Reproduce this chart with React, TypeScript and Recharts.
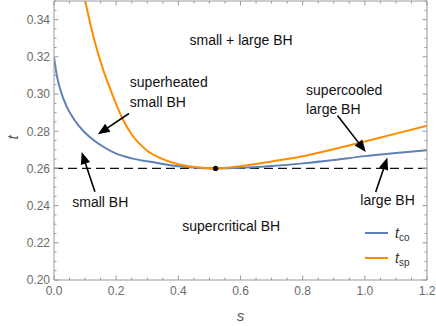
import React from 'react';
import {
  LineChart,
  Line,
  XAxis,
  YAxis,
  ReferenceLine,
  ReferenceDot,
  Legend,
} from 'recharts';

// ---- data ----
const sCo = [0, 0.01, 0.02, 0.04, 0.06, 0.08, 0.1, 0.13, 0.16, 0.2, 0.25, 0.3, 0.35, 0.4, 0.45, 0.52, 0.6, 0.7, 0.8, 0.9, 1.0, 1.1, 1.2];
const tCo = [0.3197, 0.3092, 0.3025, 0.2935, 0.2875, 0.2829, 0.2792, 0.2749, 0.2715, 0.2679, 0.2654, 0.2638, 0.2624, 0.2612, 0.2605, 0.26, 0.2603, 0.2613, 0.2627, 0.2645, 0.2666, 0.2683, 0.2698];

const sSp = [0.09, 0.1, 0.12, 0.14, 0.16, 0.18, 0.2, 0.22, 0.25, 0.3, 0.35, 0.4, 0.45, 0.52, 0.6, 0.7, 0.8, 0.9, 1.0, 1.1, 1.2];
const tSp = [0.359, 0.3505, 0.3355, 0.3228, 0.3122, 0.3032, 0.2945, 0.2868, 0.2782, 0.2695, 0.265, 0.2622, 0.2607, 0.26, 0.2612, 0.2637, 0.2665, 0.2703, 0.2745, 0.2787, 0.283];

const xMajorTicks = [0, 0.2, 0.4, 0.6, 0.8, 1.0, 1.2];
const yMajorTicks = [0.2, 0.22, 0.24, 0.26, 0.28, 0.3, 0.32, 0.34];

const criticalS = 0.52;
const criticalT = 0.26;

// annotations (data coordinates)
const noteTexts = [
  { s: 0.602, t: 0.3292, text: 'small + large BH', anchor: 'middle' },
  { s: 0.244, t: 0.3063, text: 'superheated', anchor: 'start' },
  { s: 0.244, t: 0.2956, text: 'small BH', anchor: 'start' },
  { s: 0.811, t: 0.3022, text: 'supercooled', anchor: 'start' },
  { s: 0.811, t: 0.2921, text: 'large BH', anchor: 'start' },
  { s: 0.149, t: 0.242, text: 'small BH', anchor: 'middle' },
  { s: 1.073, t: 0.2429, text: 'large BH', anchor: 'middle' },
  { s: 0.570, t: 0.229, text: 'supercritical BH', anchor: 'middle' },
];

const arrows = [
  { s1: 0.241, t1: 0.2895, s2: 0.141, t2: 0.2783 },
  { s1: 0.1316, t1: 0.2474, s2: 0.089, t2: 0.2688 },
  { s1: 0.912, t1: 0.2885, s2: 1.003, t2: 0.2688 },
  { s1: 1.035, t1: 0.2473, s2: 1.0726, t2: 0.2658 },
];

const coData = sCo.map((s, i) => ({ s, t: tCo[i] }));
const spData = sSp.map((s, i) => ({ s, t: tSp[i] }));

const xTicks: number[] = [];
for (let i = 0; i < xMajorTicks.length - 1; i++) {
  const a = xMajorTicks[i];
  const b = xMajorTicks[i + 1];
  for (let k = 0; k < 4; k++) xTicks.push(Number((a + ((b - a) * k) / 4).toFixed(4)));
}
xTicks.push(xMajorTicks[xMajorTicks.length - 1]);

const yTicks: number[] = [];
for (let i = 0; i < yMajorTicks.length - 1; i++) {
  const a = yMajorTicks[i];
  const b = yMajorTicks[i + 1];
  for (let k = 0; k < 4; k++) yTicks.push(Number((a + ((b - a) * k) / 4).toFixed(4)));
}
yTicks.push(0.34, 0.345, 0.35);
const yTicksU = Array.from(new Set(yTicks));

const isMajor = (v: number, list: number[]) => list.some((m) => Math.abs(m - v) < 1e-6);

const BLUE = '#5E81B5';
const ORANGE = '#FF8C00';
const FRAME = '#9a9a9a';
const TICKTXT = '#6a6a6a';
const FONT = '"Liberation Sans", Arial, sans-serif';

const MAJ = 4.5;
const MIN = 2.5;

const BottomTick = (props: any) => {
  const { x, y, payload } = props;
  const major = isMajor(payload.value, xMajorTicks);
  return (
    <g>
      <line x1={x} x2={x} y1={y} y2={y - (major ? MAJ : MIN)} stroke={FRAME} strokeWidth={1} />
      {major && (
        <text x={x} y={y + 15} textAnchor="middle" fill={TICKTXT} fontSize={12} fontFamily={FONT}>
          {payload.value.toFixed(1)}
        </text>
      )}
    </g>
  );
};

const TopTick = (props: any) => {
  const { x, y, payload } = props;
  const major = isMajor(payload.value, xMajorTicks);
  return <line x1={x} x2={x} y1={y} y2={y + (major ? MAJ : MIN)} stroke={FRAME} strokeWidth={1} />;
};

const LeftTick = (props: any) => {
  const { x, y, payload } = props;
  const major = isMajor(payload.value, yMajorTicks);
  return (
    <g>
      <line x1={x} x2={x + (major ? MAJ : MIN)} y1={y} y2={y} stroke={FRAME} strokeWidth={1} />
      {major && (
        <text x={x - 4} y={y + 4.3} textAnchor="end" fill={TICKTXT} fontSize={12} fontFamily={FONT}>
          {payload.value.toFixed(2)}
        </text>
      )}
    </g>
  );
};

const RightTick = (props: any) => {
  const { x, y, payload } = props;
  const major = isMajor(payload.value, yMajorTicks);
  return <line x1={x} x2={x - (major ? MAJ : MIN)} y1={y} y2={y} stroke={FRAME} strokeWidth={1} />;
};

const ArrowShape = (props: any) => {
  const { x1, y1, x2, y2 } = props;
  const dx = x2 - x1;
  const dy = y2 - y1;
  const len = Math.sqrt(dx * dx + dy * dy) || 1;
  const ux = dx / len;
  const uy = dy / len;
  const headLen = 12;
  const headHalf = 4.8;
  const bx = x2 - ux * headLen;
  const by = y2 - uy * headLen;
  const nx = -uy;
  const ny = ux;
  const pts = `${x2},${y2} ${bx + nx * headHalf},${by + ny * headHalf} ${bx - nx * headHalf},${by - ny * headHalf}`;
  return (
    <g>
      <line x1={x1} y1={y1} x2={bx + ux * 2} y2={by + uy * 2} stroke="#000" strokeWidth={1.6} />
      <polygon points={pts} fill="#000" />
    </g>
  );
};

const LegendContent = () => (
  <svg width={70} height={52} style={{ display: 'block', overflow: 'visible' }}>
    <line x1={3} x2={26} y1={13} y2={13} stroke={BLUE} strokeWidth={2} />
    <text x={33} y={18} fontSize={14} fontFamily={FONT} fill="#333" fontStyle="italic">
      t
      <tspan fontSize={10} fontStyle="normal" dy={2.5}>co</tspan>
    </text>
    <line x1={3} x2={26} y1={38} y2={38} stroke={ORANGE} strokeWidth={2} />
    <text x={33} y={43} fontSize={14} fontFamily={FONT} fill="#333" fontStyle="italic">
      t
      <tspan fontSize={10} fontStyle="normal" dy={2.5}>sp</tspan>
    </text>
  </svg>
);

export default function App() {
  return (
    <div style={{ position: 'absolute', left: 0, top: 0, width: 436, height: 326, background: '#fff' }}>
      <LineChart width={436} height={326} margin={{ top: 0, right: 8, bottom: 45, left: 53 }}>
        <XAxis
          xAxisId="b"
          type="number"
          dataKey="s"
          domain={[0, 1.2]}
          ticks={xTicks}
          interval={0}
          tickSize={0}
          tickMargin={0}
          height={1}
          stroke={FRAME}
          tick={BottomTick}
          allowDataOverflow
          label={(p: any) => {
            const vb = p.viewBox || { x: 54, y: 280, width: 373, height: 0 };
            return (
              <text x={vb.x + vb.width / 2} y={vb.y + 41} textAnchor="middle" fontSize={15} fontStyle="italic" fill="#555" fontFamily={FONT}>
                s
              </text>
            );
          }}
        />
        <XAxis
          xAxisId="t"
          orientation="top"
          type="number"
          dataKey="s"
          domain={[0, 1.2]}
          ticks={xTicks}
          interval={0}
          tickSize={0}
          tickMargin={0}
          height={1}
          stroke={FRAME}
          tick={TopTick}
          allowDataOverflow
        />
        <YAxis
          yAxisId="l"
          type="number"
          domain={[0.2, 0.35]}
          ticks={yTicksU}
          interval={0}
          tickSize={0}
          tickMargin={0}
          width={1}
          stroke={FRAME}
          tick={LeftTick}
          allowDataOverflow
          label={(p: any) => {
            const vb = p.viewBox || { x: 53, y: 1, width: 1, height: 279 };
            const cx = vb.x + vb.width - 42;
            const cy = vb.y + vb.height / 2 - 3;
            return (
              <text x={cx} y={cy} transform={`rotate(-90 ${cx} ${cy})`} textAnchor="middle" dominantBaseline="central" fontSize={15} fontStyle="italic" fill="#555" fontFamily={FONT}>
                t
              </text>
            );
          }}
        />
        <YAxis
          yAxisId="r"
          orientation="right"
          type="number"
          domain={[0.2, 0.35]}
          ticks={yTicksU}
          interval={0}
          tickSize={0}
          tickMargin={0}
          width={1}
          stroke={FRAME}
          tick={RightTick}
          allowDataOverflow
        />

        <ReferenceLine xAxisId="b" yAxisId="l" y={criticalT} stroke="#111" strokeWidth={1.3} strokeDasharray="9 5" />

        <Line
          xAxisId="b"
          yAxisId="l"
          data={coData}
          dataKey="t"
          name="tco"
          type="monotone"
          stroke={BLUE}
          strokeWidth={2}
          dot={false}
          activeDot={false}
          isAnimationActive={false}
        />
        <Line
          xAxisId="b"
          yAxisId="l"
          data={spData}
          dataKey="t"
          name="tsp"
          type="monotone"
          stroke={ORANGE}
          strokeWidth={2}
          dot={false}
          activeDot={false}
          isAnimationActive={false}
        />

        <ReferenceDot xAxisId="b" yAxisId="l" x={criticalS} y={criticalT} r={2.6} fill="#000" stroke="none" />

        {arrows.map((a, i) => (
          <ReferenceLine
            key={`arr${i}`}
            xAxisId="b"
            yAxisId="l"
            segment={[
              { x: a.s1, y: a.t1 },
              { x: a.s2, y: a.t2 },
            ]}
            stroke="#000"
            shape={ArrowShape}
          />
        ))}

        {noteTexts.map((n, i) => (
          <ReferenceDot
            key={`note${i}`}
            xAxisId="b"
            yAxisId="l"
            x={n.s}
            y={n.t}
            r={0}
            fill="none"
            stroke="none"
            label={(p: any) => {
              const vb = p.viewBox || {};
              const cx = (vb.x ?? 0) + (vb.width ?? 0) / 2;
              const cy = (vb.y ?? 0) + (vb.height ?? 0) / 2;
              return (
                <text x={cx} y={cy + 5} textAnchor={n.anchor} fontSize={14} fill="#111" fontFamily={FONT}>
                  {n.text}
                </text>
              );
            }}
          />
        ))}

        <Legend
          layout="horizontal"
          verticalAlign="middle"
          align="center"
          content={LegendContent}
          wrapperStyle={{ position: 'absolute', left: 362, top: 220, width: 70, height: 52 }}
        />
      </LineChart>
    </div>
  );
}
